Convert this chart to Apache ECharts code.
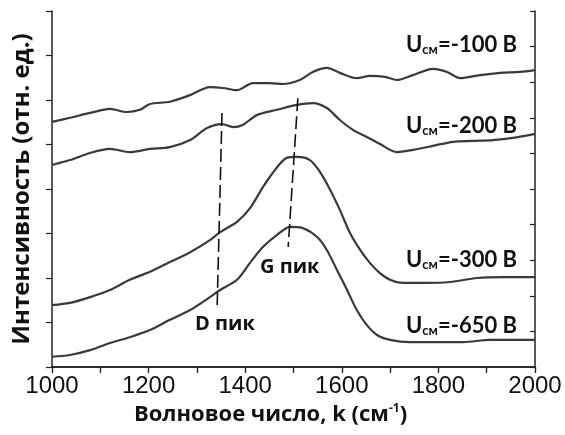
<!DOCTYPE html>
<html>
<head>
<meta charset="utf-8">
<script src="https://cdn.jsdelivr.net/npm/echarts@6/dist/echarts.min.js"></script>
<style>html,body{margin:0;padding:0;background:#fff}#c{width:565px;height:435px}</style>
</head>
<body>
<div id="c"></div>
<script>
// Wavenumber (cm^-1) and intensity (arb. units, offset)
const k100 = [1000,1037,1079,1120,1155,1182,1203,1244,1286,1327,1354,1383,1416,1451,1478,1513,1540,1569,1596,1631,1658,1689,1714,1747,1789,1818,1845,1886,1928,1969,2000];
const i100 = [55.1,56.0,57.1,58.0,57.3,57.8,59.1,59.6,61.1,62.9,62.7,62.2,63.8,63.8,63.6,64.5,66.3,67.2,66.1,64.9,65.4,65.2,64.5,65.6,67.0,66.3,64.9,65.6,66.1,66.3,66.7];

const k200 = [1000,1037,1079,1120,1161,1203,1244,1286,1321,1352,1375,1395,1424,1466,1507,1540,1569,1596,1623,1652,1679,1714,1747,1789,1830,1872,1913,1954,2000];
const i200 = [45.4,46.5,48.1,49.0,48.3,49.0,49.4,51.0,53.7,54.6,53.9,54.4,56.6,57.8,58.9,59.3,58.2,55.5,53.3,51.7,50.1,48.3,48.8,49.7,50.6,50.8,51.0,51.5,52.4];

const k300 = [1000,1037,1079,1120,1161,1203,1244,1286,1327,1348,1383,1410,1437,1466,1486,1507,1534,1555,1576,1596,1617,1638,1658,1679,1700,1727,1768,1824,1880,1934,2000];
const i300 = [13.9,14.4,15.7,17.3,19.6,21.4,23.6,25.8,28.5,30.3,32.6,35.7,40.5,44.9,47.0,47.2,46.5,43.8,39.8,35.3,30.1,26.3,23.4,21.1,19.6,18.9,18.9,19.1,20.0,20.2,20.2];

const k650 = [1000,1037,1079,1120,1161,1203,1244,1286,1327,1348,1383,1410,1437,1466,1493,1520,1549,1569,1590,1611,1631,1652,1673,1700,1741,1797,1851,1907,2000];
const i650 = [2.3,2.7,3.8,5.4,6.7,8.3,10.6,12.8,15.7,17.3,19.6,23.4,27.0,29.7,31.5,31.2,29.2,26.3,21.8,17.3,12.8,9.4,7.2,6.1,5.6,5.6,5.6,6.1,6.1];

// Peak guide lines (dashed)
const dLine = [[1352,57.1],[1342,13.9]];
const gLine = [[1509,60.4],[1489,27.0]];

const labelsBias = ['-100 В','-200 В','-300 В','-650 В'];
const xTicksLabels = [1000,1200,1400,1600,1800,2000];

function pairs(k, v){ return k.map((x,i)=>[x, v[i]]); }

const chart = echarts.init(document.getElementById('c'));
const axisCol = '#222';
const lineStyle = {color:'#3a3a3a', width:2.2};
const spec = (name,k,v)=>({type:'line', name, data:pairs(k,v), showSymbol:false, symbol:'none', smooth:0.3,
  lineStyle, xAxisIndex:0, yAxisIndex:0, silent:true, animation:false});
const dash = (d)=>({type:'line', data:d, showSymbol:false, symbol:'none',
  lineStyle:{color:'#111', width:1.6, type:[13,5]}, xAxisIndex:0, yAxisIndex:0, animation:false, silent:true});

const labelRich = {
  m:{fontFamily:'Lato', fontWeight:'bold', fontSize:22, lineHeight:26, color:'#111'},
  s:{fontFamily:'Lato', fontWeight:'bold', fontSize:13, lineHeight:26, color:'#111', padding:[9,0,0,0]}
};
function biasText(idx, top){
  return {type:'text', right:48, top:top, style:{
    text:'{m|U}{s|см}{m|=' + labelsBias[idx] + '}', rich:labelRich, fill:'#111'}};
}

chart.setOption({
  animation:false,
  grid:{left:52, right:30, top:11, bottom:68},
  xAxis:[{
    type:'value', min:1000, max:2000, interval:100, position:'bottom',
    axisLine:{lineStyle:{color:axisCol, width:1.5}},
    axisTick:{inside:false, length:6, lineStyle:{color:axisCol, width:1.2}},
    splitLine:{show:false},
    axisLabel:{color:'#111', fontFamily:'Liberation Sans', fontSize:24, margin:7,
      formatter:(v)=> xTicksLabels.indexOf(v)>=0 ? String(v) : ''},
    name:'{a|Волновое число, k (см}{b|-1}{a|)}', nameLocation:'middle', nameGap:35,
    nameTextStyle:{padding:[0,46,0,0], rich:{
      a:{fontFamily:'Open Sans', fontWeight:'bold', fontSize:22, color:'#111', lineHeight:26},
      b:{fontFamily:'Open Sans', fontWeight:'bold', fontSize:12, color:'#111', lineHeight:26, padding:[0,0,12,0]}
    }}
  },{
    type:'value', min:1000, max:2000, interval:100, position:'top',
    axisLine:{lineStyle:{color:axisCol, width:1.5}},
    axisTick:{show:true, inside:false, length:-5, lineStyle:{color:axisCol, width:1.2}},
    axisLabel:{show:false}, splitLine:{show:false}
  }],
  yAxis:[{
    type:'value', min:0, max:80, interval:10, position:'left',
    axisLine:{show:true, lineStyle:{color:axisCol, width:1.5}},
    axisTick:{show:true, inside:false, length:6, lineStyle:{color:axisCol, width:1.2}},
    axisLabel:{show:false}, splitLine:{show:false},
    name:'Интенсивность (отн. ед.)', nameLocation:'middle', nameGap:18, nameRotate:90,
    nameTextStyle:{fontFamily:'Open Sans', fontWeight:'bold', fontSize:24, color:'#111'}
  },{
    type:'value', min:0, max:80, interval:8, position:'right',
    axisLine:{show:true, lineStyle:{color:axisCol, width:1.5}},
    axisTick:{show:true, inside:false, length:-5, lineStyle:{color:axisCol, width:1.2}},
    axisLabel:{show:false}, splitLine:{show:false}
  }],
  series:[
    spec('-100',k100,i100), spec('-200',k200,i200), spec('-300',k300,i300), spec('-650',k650,i650),
    dash(dLine), dash(gLine)
  ],
  graphic:[
    biasText(0, 34), biasText(1, 115), biasText(2, 249), biasText(3, 315),
    {type:'text', left:195, top:314, style:{text:'D пик', font:'bold 20px "Open Sans"', fill:'#111'}},
    {type:'text', left:260, top:257, style:{text:'G пик', font:'bold 20px "Open Sans"', fill:'#111'}}
  ]
});
</script>
</body>
</html>
